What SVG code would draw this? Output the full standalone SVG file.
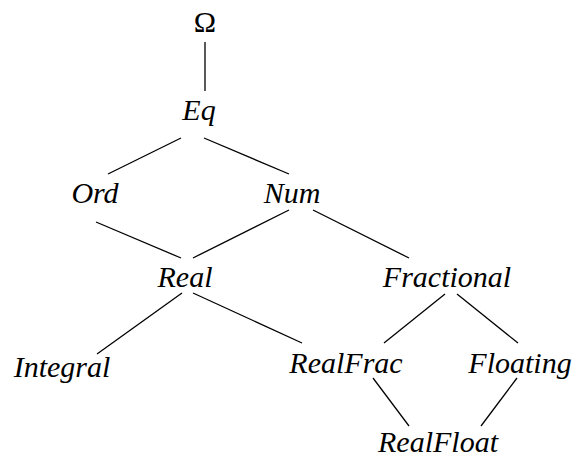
<svg xmlns="http://www.w3.org/2000/svg" width="579" height="457" viewBox="0 0 579 457">
<style>
text{font-size:30px;font-style:italic;text-anchor:middle;fill:#000}
.u{font-style:normal}
.e line{stroke:#000;stroke-width:1.3}
</style>
<rect width="579" height="457" fill="#fff"/>
<g id="edges" class="e">
<line x1="205" y1="42" x2="205" y2="91"/>
<line x1="181" y1="138" x2="108" y2="174"/>
<line x1="204" y1="138" x2="289" y2="174"/>
<line x1="96" y1="222" x2="181" y2="258"/>
<line x1="289" y1="210" x2="193" y2="258"/>
<line x1="313" y1="210" x2="409" y2="258"/>
<line x1="182" y1="293" x2="97" y2="354"/>
<line x1="193" y1="293" x2="302" y2="343"/>
<line x1="445" y1="294" x2="384" y2="343"/>
<line x1="457" y1="294" x2="518" y2="343"/>
<line x1="373" y1="378" x2="409" y2="426"/>
<line x1="517" y1="378" x2="481" y2="426"/>
</g>
<g id="nodes" font-family="Liberation Serif, serif">
<g id="omega"><text class="u" x="205" y="32">Ω</text></g>
<g id="eq"><text x="199" y="120">Eq</text></g>
<g id="ord"><text x="95" y="203">Ord</text></g>
<g id="num"><text x="292" y="203">Num</text></g>
<g id="real"><text x="185" y="287">Real</text></g>
<g id="fractional"><text x="447" y="287">Fractional</text></g>
<g id="integral"><text x="62" y="377">Integral</text></g>
<g id="realfrac"><text x="346" y="373">RealFrac</text></g>
<g id="floating"><text x="520" y="373">Floating</text></g>
<g id="realfloat"><text x="438" y="452">RealFloat</text></g>
</g>
</svg>
